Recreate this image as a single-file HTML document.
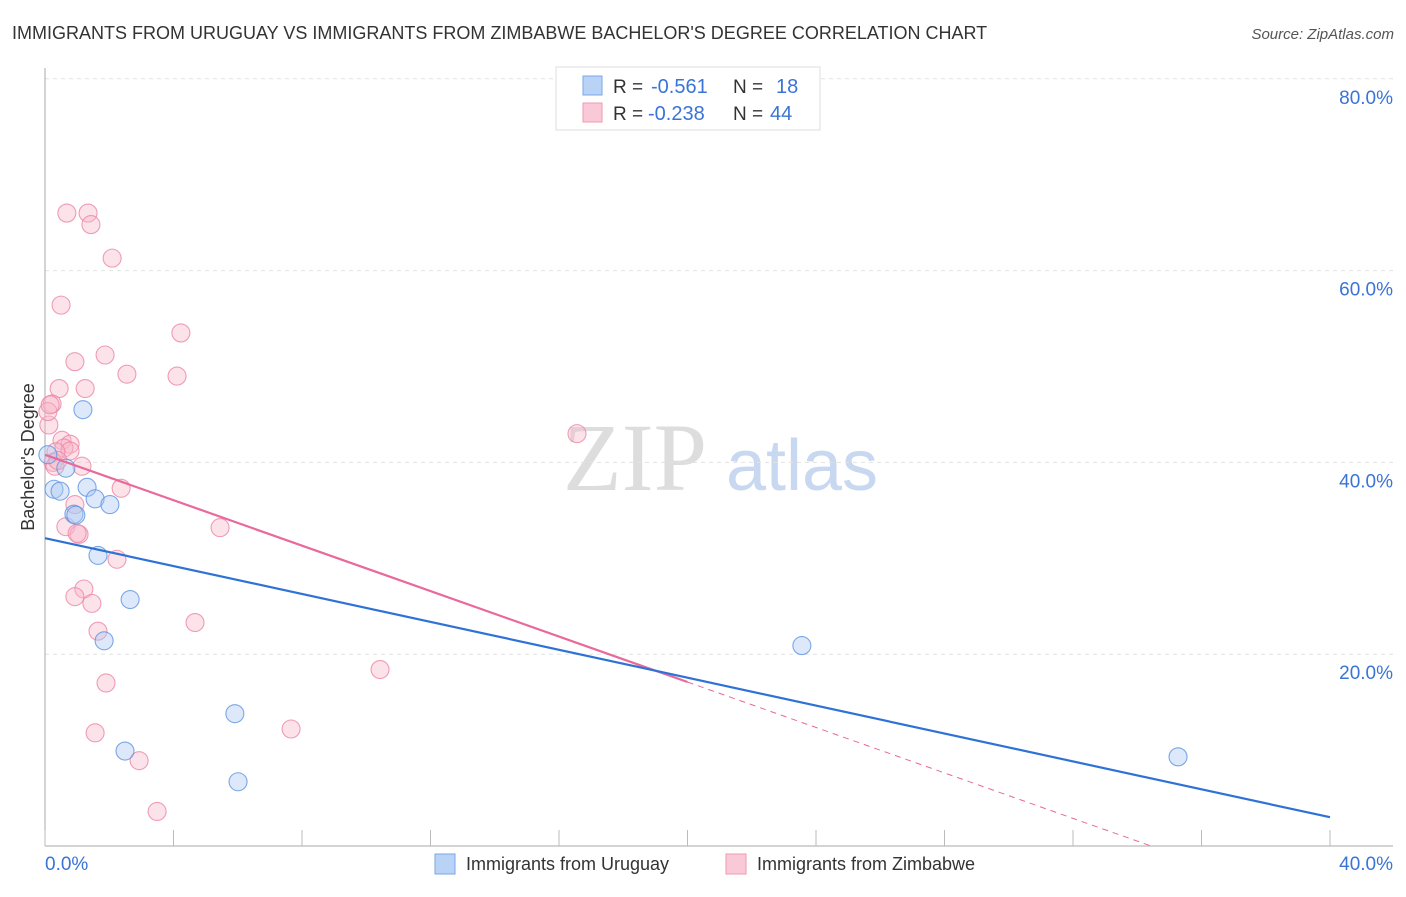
<!DOCTYPE html>
<html><head><meta charset="utf-8"><style>
body{margin:0;background:#fff;font-family:"Liberation Sans",sans-serif}
</style></head><body>
<svg width="1406" height="892" xmlns="http://www.w3.org/2000/svg" font-family="Liberation Sans, sans-serif">
<text x="12" y="39" font-size="18" fill="#333">IMMIGRANTS FROM URUGUAY VS IMMIGRANTS FROM ZIMBABWE BACHELOR'S DEGREE CORRELATION CHART</text>
<text x="1394" y="39" font-size="15" fill="#555" font-style="italic" text-anchor="end">Source: ZipAtlas.com</text>
<g><text x="635" y="490" font-size="96" font-family="Liberation Serif, serif" fill="#ddd" text-anchor="middle">ZIP</text><text x="802" y="490" font-size="72" fill="#c8d8f0" text-anchor="middle">atlas</text></g>
<g id="grid"></g>
<g id="axes"></g>
<g id="marks"></g>
<text transform="translate(34,457) rotate(-90)" font-size="18" fill="#333" text-anchor="middle">Bachelor's Degree</text>
<g>
<rect x="556" y="67" width="264" height="63" fill="#fff" stroke="#ddd"/>
<rect x="583" y="76" width="19" height="19" fill="#b8d3f5" stroke="#7aa7e6"/>
<rect x="583" y="103" width="19" height="19" fill="#f9c9d7" stroke="#f09ab4"/>
<text x="613" y="93" font-size="19" fill="#333">R =</text>
<text x="651" y="93" font-size="20" fill="#3a74d6">-0.561</text>
<text x="733" y="93" font-size="19" fill="#333">N =</text>
<text x="776" y="93" font-size="20" fill="#3a74d6">18</text>
<text x="613" y="120" font-size="19" fill="#333">R =</text>
<text x="648" y="120" font-size="20" fill="#3a74d6">-0.238</text>
<text x="733" y="120" font-size="19" fill="#333">N =</text>
<text x="770" y="120" font-size="20" fill="#3a74d6">44</text>
</g>
<g>
<rect x="435" y="854" width="20" height="20" fill="#b8d3f5" stroke="#7aa7e6"/>
<text x="466" y="870" font-size="18" fill="#333">Immigrants from Uruguay</text>
<rect x="726" y="854" width="20" height="20" fill="#f9c9d7" stroke="#f09ab4"/>
<text x="757" y="870" font-size="18" fill="#333">Immigrants from Zimbabwe</text>
</g>
</svg>
<script>
const yTicks=[20,40,60,80];
const yTickLabels=["20.0%","40.0%","60.0%","80.0%"];
const xTicks=[0,4,8,12,16,20,24,28,32,36,40];
const blueX=[0.28,0.47,1.31,1.56,2.02,0.90,1.65,2.65,1.84,1.18,0.65,5.91,2.49,6.01,23.56,35.27,0.09,0.96];
const blueY=[37.2,37.0,37.4,36.2,35.6,34.6,30.3,25.7,21.4,45.5,39.4,13.8,9.9,6.7,20.9,9.3,40.8,34.5];
const pinkX=[0.68,1.34,1.43,2.09,0.50,0.93,1.87,4.23,2.55,4.11,0.44,1.25,0.22,0.12,0.53,0.78,0.59,0.78,0.34,0.25,1.15,0.93,2.37,0.65,1.06,1.00,5.45,2.24,1.21,0.93,1.46,4.67,1.65,1.90,10.43,1.56,7.66,2.93,3.49,16.56,0.09,0.31,0.16,0.40];
const pinkY=[66.0,66.0,64.8,61.3,56.4,50.5,51.2,53.5,49.2,49.0,47.7,47.7,46.1,43.9,42.3,41.9,41.5,41.2,41.1,40.0,39.6,35.6,37.3,33.3,32.5,32.6,33.2,29.9,26.8,26.0,25.3,23.3,22.4,17.0,18.4,11.8,12.2,8.9,3.6,43.0,45.3,39.6,46.0,40.2];
const blueTrend=[32.1,3.0];
const pinkTrend=[40.8,17.1];
const NS="http://www.w3.org/2000/svg";
const X=v=>45+v*32.125, Y=v=>846-v*9.59;
function mk(p,t,a){const e=document.createElementNS(NS,t);for(const k in a)e.setAttribute(k,a[k]);p.appendChild(e);return e;}
const grid=document.getElementById('grid'),axes=document.getElementById('axes'),marks=document.getElementById('marks');
yTicks.forEach((v,i)=>{
 const l=mk(grid,'line',{x1:45,x2:1393,y1:Y(v),y2:Y(v),stroke:'#e2e2e2','stroke-dasharray':'4,4'});
 
 
 const t=mk(axes,'text',{x:1393,y:Y(v)+25,'font-size':19,fill:'#3a74d6','text-anchor':'end'});t.textContent=yTickLabels[i];
 
 
});
mk(axes,'line',{x1:45,x2:45,y1:68,y2:846,stroke:'#aaa'});
mk(axes,'line',{x1:45,x2:1393,y1:846,y2:846,stroke:'#aaa'});
xTicks.forEach(v=>{const t=mk(axes,'line',{x1:X(v),x2:X(v),y1:830,y2:846,stroke:'#bbb'});
 
 });
let a=mk(axes,'text',{x:45,y:870,'font-size':19,fill:'#3a74d6'});a.textContent='0.0%';


a=mk(axes,'text',{x:1393,y:870,'font-size':19,fill:'#3a74d6','text-anchor':'end'});a.textContent='40.0%';


function pts(xs,ys,fill,stroke,name){xs.forEach((x,i)=>{const c=mk(marks,'circle',{cx:X(x),cy:Y(ys[i]),r:9,fill:fill,'fill-opacity':0.4,stroke:stroke,'stroke-opacity':0.8,'stroke-width':1.1});
 
 });}
pts(pinkX,pinkY,'#f7b6c9','#ec86a6','zimbabwe-point');
pts(blueX,blueY,'#a9c9f2','#5d93e0','uruguay-point');
const ps=(pinkTrend[1]-pinkTrend[0])/20, x0=-pinkTrend[0]/ps;
let l=mk(marks,'line',{x1:X(0),y1:Y(pinkTrend[0]),x2:X(20),y2:Y(pinkTrend[1]),stroke:'#e8699a','stroke-width':2.2});


l=mk(marks,'line',{x1:X(20),y1:Y(pinkTrend[1]),x2:X(x0),y2:Y(0),stroke:'#e8699a','stroke-width':1,'stroke-dasharray':'6,5'});


l=mk(marks,'line',{x1:X(0),y1:Y(blueTrend[0]),x2:X(40),y2:Y(blueTrend[1]),stroke:'#2f72d6','stroke-width':2.2});


</script>
</body></html>
